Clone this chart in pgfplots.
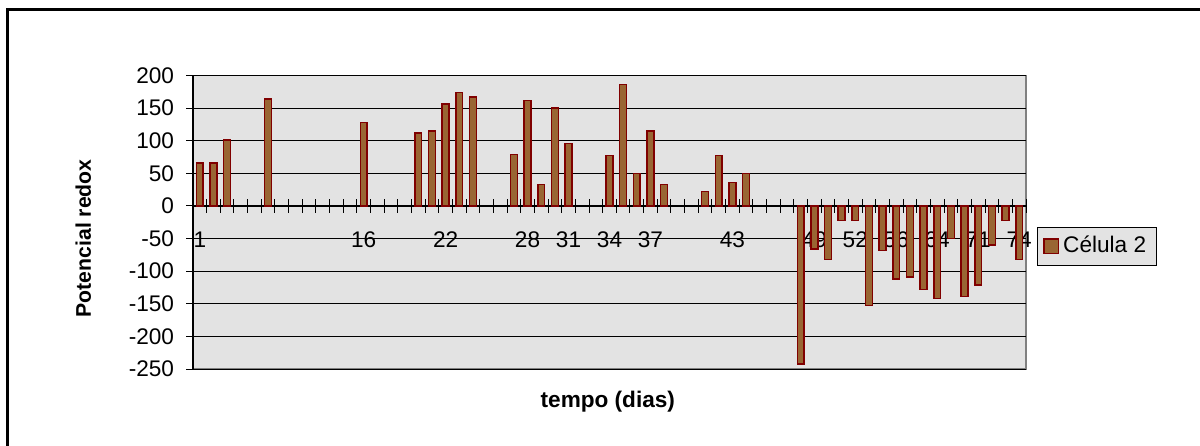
\documentclass[border=0pt]{standalone}
\usepackage{fontspec}
\setmainfont{Liberation Sans}
\usepackage{pgfplots}
\pgfplotsset{compat=1.18}
\definecolor{barfill}{RGB}{153,102,51}
\definecolor{baredge}{RGB}{128,0,0}
\definecolor{plotbg}{RGB}{227,227,227}
\newcommand{\chartfont}{\fontsize{11.3}{13.5}\selectfont}
% small square legend swatch
\pgfplotsset{squarelegend/.style={legend image code/.code={\draw[##1] (0pt,-3.6pt) rectangle (7.2pt,3.6pt);}}}

\begin{document}
\chartfont
\begin{tikzpicture}
% page size
\path[use as bounding box] (0,0) rectangle (600pt,-222.5pt);
% outer chart frame
\draw[line width=1.5pt] (3.5pt,-230pt) -- (3.5pt,-4.5pt) -- (605pt,-4.5pt);
\begin{axis}[
  at={(96.5pt,-184.5pt)}, anchor=south west,
  width=416.5pt, height=146.75pt, scale only axis,
  xmin=0.5, xmax=61.5, ymin=-250, ymax=200,
  axis background/.style={fill=plotbg, draw=gray, line width=0.8pt},
  axis x line=middle, axis y line=left,
  axis line style={-, black, line width=0.6pt},
  tick align=center, major tick length=7pt,
  tick style={black, line width=0.5pt},
  xtick={0.5,1.5,...,61.5}, xticklabels={},
  extra x ticks={1,13,19,25,28,31,34,40,46,49,52,55,58,61},
  extra x tick labels={1,16,22,28,31,34,37,43,49,52,56,64,71,74},
  extra x tick style={major tick length=0pt},
  xticklabel style={yshift=-9pt, font=\chartfont},
  ytick={-250,-200,...,200},
  yticklabels={-250,-200,-150,-100,-50,0,50,100,150,200},
  yticklabel style={xshift=-2pt, font=\chartfont},
  ymajorgrids, grid style={black, line width=0.5pt},
  xlabel={\bfseries tempo (dias)},
  xlabel style={at={(axis description cs:0.498,-0.112)}, anchor=center, font=\chartfont},
  ylabel={\bfseries Potencial redox},
  ylabel style={at={(axis description cs:-0.1317,0.4453)}, anchor=center,
    font=\fontsize{10.6}{12.5}\selectfont},
  legend style={at={(axis description cs:1.0129,0.4848)}, anchor=north west,
    fill=plotbg, draw=black, line width=0.6pt, inner xsep=3pt, inner ysep=2.5pt,
    font=\chartfont},
  legend cell align=left,
]
\addplot[ybar, bar width=0.5, fill=barfill, draw=baredge, line width=0.75pt, squarelegend]
coordinates {
  (1,66) (2,66) (3,101) (6,164) (13,128)
  (17,112) (18,115) (19,156) (20,174) (21,167)
  (24,79) (25,162) (26,33) (27,150) (28,96)
  (31,77) (32,186) (33,50) (34,115) (35,33)
  (38,22) (39,77) (40,36) (41,50)
  (45,-242) (46,-66) (47,-82) (48,-22) (49,-22) (50,-153)
  (51,-68) (52,-112) (53,-109) (54,-128) (55,-142) (56,-50)
  (57,-139) (58,-121) (59,-60) (60,-22) (61,-82)
};
\addlegendentry{Célula 2}
\end{axis}
\end{tikzpicture}
\end{document}
